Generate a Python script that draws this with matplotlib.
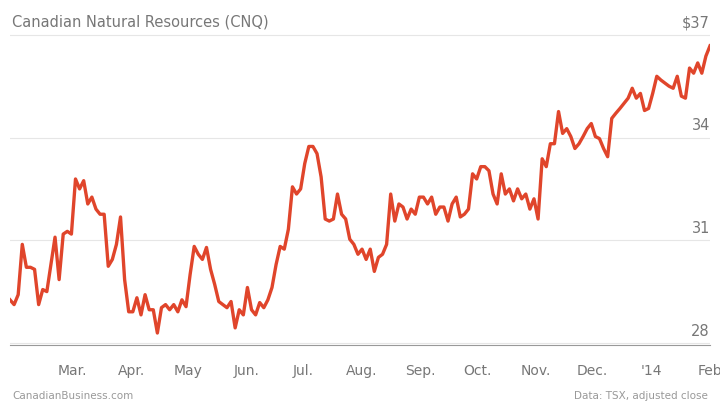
import matplotlib
matplotlib.use("Agg")
import matplotlib.pyplot as plt
import numpy as np
import pandas as pd

prices = [29.26,29.12,29.41,30.88,30.21,30.21,30.15,29.12,29.56,29.5,30.29,31.09,29.85,31.18,31.26,31.18,32.79,32.5,32.74,32.06,32.26,31.91,31.76,31.76,30.24,30.44,30.88,31.68,29.85,28.91,28.91,29.32,28.82,29.41,28.97,28.97,28.29,29.03,29.12,28.97,29.12,28.91,29.26,29.06,30.0,30.82,30.59,30.44,30.79,30.15,29.71,29.21,29.12,29.03,29.21,28.44,28.97,28.82,29.62,28.97,28.82,29.18,29.03,29.26,29.62,30.29,30.82,30.74,31.32,32.56,32.35,32.5,33.24,33.74,33.74,33.53,32.85,31.62,31.56,31.62,32.35,31.76,31.62,31.03,30.88,30.59,30.74,30.44,30.74,30.09,30.5,30.59,30.88,32.35,31.56,32.06,31.97,31.62,31.91,31.76,32.26,32.26,32.06,32.26,31.76,31.97,31.97,31.56,32.06,32.26,31.68,31.76,31.91,32.94,32.79,33.15,33.15,33.03,32.35,32.06,32.94,32.35,32.5,32.15,32.5,32.21,32.35,31.91,32.21,31.62,33.38,33.15,33.82,33.82,34.76,34.12,34.26,34.03,33.68,33.82,34.03,34.26,34.41,34.03,33.97,33.68,33.44,34.56,34.71,34.85,35.0,35.15,35.44,35.15,35.29,34.79,34.85,35.29,35.79,35.68,35.59,35.5,35.44,35.79,35.21,35.15,36.03,35.88,36.18,35.88,36.38,36.68]
start, end = "2013-01-27", "2014-02-01"
yticks = [28, 31, 34, 37]
ylabels = ["28", "31", "34", "$37"]
xtick_dates = ["2013-03-01","2013-04-01","2013-05-01","2013-06-01","2013-07-01","2013-08-01",
               "2013-09-01","2013-10-01","2013-11-01","2013-12-01","2014-01-01","2014-02-01"]
xtick_labels = ["Mar.","Apr.","May","Jun.","Jul.","Aug.","Sep.","Oct.","Nov.","Dec.","'14","Feb"]

dates = pd.date_range(start, end, periods=len(prices))
fig = plt.figure(figsize=(7.2, 4.05), dpi=100)
ax = fig.add_axes([10/720, 60/405, 700/720, 330/405])
ax.plot(dates, prices, color="#e0452b", lw=2.4, solid_joinstyle="round")
ax.set_xlim(pd.Timestamp(start), pd.Timestamp(end))
ax.set_ylim(27.94, 37.58)
for v, l in zip(yticks, ylabels):
    ax.axhline(v, color="#e6e6e6", lw=0.8, zorder=0)
    ax.text(1.0, v + 0.12, l, transform=ax.get_yaxis_transform(), ha="right", va="bottom",
            fontsize=10.5, color="#777777", family="Liberation Sans Narrow" if False else "DejaVu Sans")
ax.set_yticks([])
ax.set_xticks(pd.to_datetime(xtick_dates))
ax.set_xticklabels(xtick_labels, fontsize=10, color="#777777")
ax.tick_params(axis="x", length=0, pad=14)
for s in ["top", "right", "left"]:
    ax.spines[s].set_visible(False)
ax.spines["bottom"].set_color("#999999")
fig.text(12/720, 1-22/405, "Canadian Natural Resources (CNQ)", fontsize=10.5, color="#777777", va="center")
fig.text(12/720, 1-396/405, "CanadianBusiness.com", fontsize=7.5, color="#999999", va="center")
fig.text(708/720, 1-396/405, "Data: TSX, adjusted close", fontsize=7.5, color="#999999", va="center", ha="right")
fig.savefig("out.png", dpi=100)
